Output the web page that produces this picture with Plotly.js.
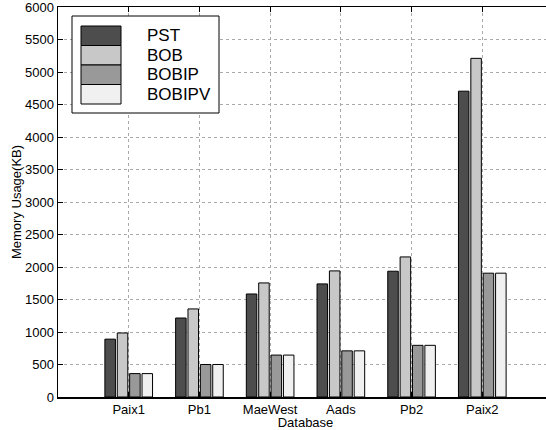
<!DOCTYPE html>
<html>
<head>
<meta charset="utf-8">
<script src="https://cdn.plot.ly/plotly-3.0.1.min.js"></script>
<style>
html,body{margin:0;padding:0;overflow:hidden;background:#fff;}
#chart{width:560px;height:430px;}
</style>
</head>
<body>
<div id="chart"></div>
<script>
var categories = ["Paix1", "Pb1", "MaeWest", "Aads", "Pb2", "Paix2"];
var seriesNames = ["PST", "BOB", "BOBIP", "BOBIPV"];
var pst    = [890, 1215, 1585, 1740, 1935, 4705];
var bob    = [985, 1355, 1755, 1940, 2155, 5210];
var bobip  = [360, 500, 645, 710, 795, 1905];
var bobipv = [360, 500, 645, 710, 795, 1905];
var seriesValues = [pst, bob, bobip, bobipv];
var seriesColors = ["#4d4d4d", "#c8c8c8", "#999999", "#f0f0f0"];
var yTicks = [0, 500, 1000, 1500, 2000, 2500, 3000, 3500, 4000, 4500, 5000, 5500, 6000];

var font = "Liberation Sans, Arial, Helvetica, sans-serif";
var idx = categories.map(function(c, i){ return i; });

var traces = seriesNames.map(function(name, k){
  return {
    type: "bar",
    name: name,
    x: idx,
    y: seriesValues[k],
    marker: {color: seriesColors[k], line: {color: "#000", width: 1}},
    showlegend: false
  };
});

// plot area in pixels (for legend placement)
var W = 560, H = 430;
var mL = 58, mR = 7, mT = 7, mB = 33;
var pw = W - mL - mR, ph = H - mT - mB;
function px(x){ return (x - mL) / pw; }
function py(y){ return (H - mB - y) / ph; }

var shapes = [];
var annotations = [];
// legend box
shapes.push({type: "rect", xref: "paper", yref: "paper",
  x0: px(72), x1: px(219), y0: py(113), y1: py(16),
  line: {color: "#000", width: 1}, fillcolor: "#fff", layer: "above"});
var rowTop = 26, rowH = 19.5;
seriesNames.forEach(function(name, k){
  var t = rowTop + k * rowH, b = t + rowH;
  shapes.push({type: "rect", xref: "paper", yref: "paper",
    x0: px(81), x1: px(121), y0: py(b), y1: py(t),
    line: {color: "#000", width: 1}, fillcolor: seriesColors[k], layer: "above"});
  annotations.push({xref: "paper", yref: "paper", x: px(145), y: py((t + b) / 2),
    xanchor: "left", yanchor: "middle", showarrow: false, text: name,
    font: {family: font, size: 17, color: "#000"}});
});

var layout = {
  width: W, height: H,
  margin: {l: mL, r: mR, t: mT, b: mB, pad: 0},
  paper_bgcolor: "#fff", plot_bgcolor: "#fff",
  barmode: "group", bargap: 0.3, bargroupgap: 0.15,
  font: {family: font, size: 13, color: "#000"},
  xaxis: {
    range: [-1, 6],
    tickmode: "array", tickvals: idx, ticktext: categories,
    ticks: "inside", ticklen: 5, tickcolor: "#000",
    showline: true, linecolor: "#000", linewidth: 1.5, mirror: "ticks",
    showgrid: true, gridcolor: "#aaaaaa", griddash: "dot", gridwidth: 1,
    zeroline: false, ticklabeloverflow: "allow",
    tickfont: {family: font, size: 13, color: "#000"},
    title: {text: "Database", font: {family: font, size: 13, color: "#000"}, standoff: 2}
  },
  yaxis: {
    range: [0, 6000],
    tickmode: "array", tickvals: yTicks, ticktext: yTicks.map(String),
    ticks: "inside", ticklen: 5, tickcolor: "#000",
    showline: true, linecolor: "#000", linewidth: 1.5, mirror: "ticks",
    showgrid: true, gridcolor: "#aaaaaa", griddash: "dot", gridwidth: 1,
    zeroline: false, ticklabeloverflow: "allow",
    tickfont: {family: font, size: 13, color: "#000"},
    title: {text: "Memory Usage(KB)", font: {family: font, size: 13, color: "#000"}, standoff: 0}
  },
  shapes: shapes,
  annotations: annotations,
  showlegend: false
};

Plotly.newPlot("chart", traces, layout, {displayModeBar: false, staticPlot: true});
</script>
</body>
</html>
